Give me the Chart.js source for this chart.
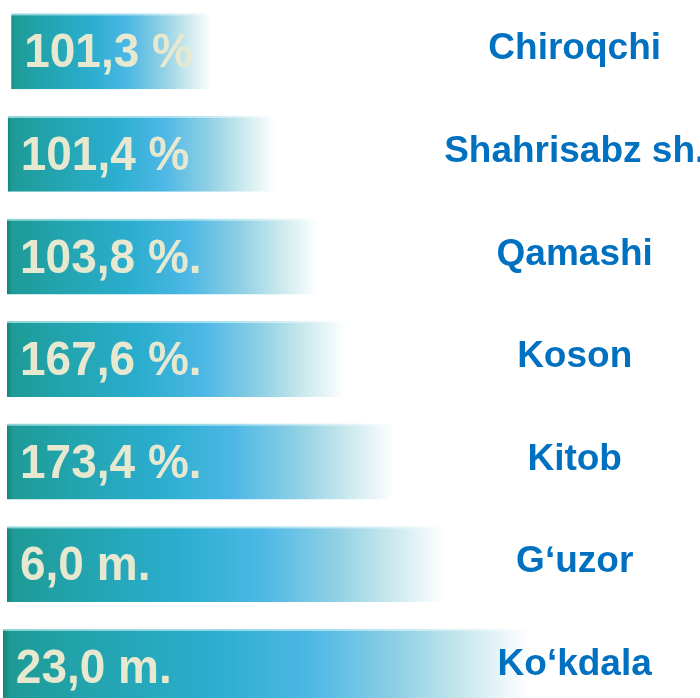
<!DOCTYPE html>
<html><head><meta charset="utf-8">
<script src="https://cdn.jsdelivr.net/npm/chart.js@4/dist/chart.umd.min.js"></script>
<style>
html,body{margin:0;padding:0;background:#fff;overflow:hidden}
#wrap{position:absolute;left:0;top:0;width:700px;height:718px}
</style>
</head><body><div id="wrap"><canvas id="c"></canvas></div>
<script>
const districts = ["Chiroqchi", "Shahrisabz sh.", "Qamashi", "Koson", "Kitob", "Gʻuzor", "Ko‘kdala"];
const valueLabels = ["101,3 %", "101,4 %", "103,8 %.", "167,6 %.", "173,4 %.", "6,0 m.", "23,0 m."];
const barStart = [1.6, 1.1, 1.0, 1.0, 1.0, 1.0, 0.4];
const barEnd = [30.3, 39.3, 45.4, 49.3, 56.4, 63.6, 75.7];

function barPixels(ctx) {
  const xs = ctx.chart.scales.x;
  const i = ctx.dataIndex;
  return [xs.getPixelForValue(barStart[i]), xs.getPixelForValue(barEnd[i])];
}

function barGradient(ctx) {
  const chart = ctx.chart;
  if (!chart.chartArea || ctx.type !== 'data') return '#2aaecd';
  const [x0, x1] = barPixels(ctx);
  const g = chart.ctx.createLinearGradient(x0, 0, x1, 0);
  g.addColorStop(0, '#15827c');
  g.addColorStop(0.015, '#1e9b96');
  g.addColorStop(0.15, '#22a3ac');
  g.addColorStop(0.4, '#2baecf');
  g.addColorStop(0.58, '#4cb7e5');
  g.addColorStop(0.75, '#8fd0e4');
  g.addColorStop(0.88, '#cbe9ee');
  g.addColorStop(1, 'rgba(255,255,255,1)');
  return g;
}

function edgeGradient(ctx) {
  const chart = ctx.chart;
  if (!chart.chartArea || ctx.type !== 'data') return '#9fdde6';
  const [x0, x1] = barPixels(ctx);
  const g = chart.ctx.createLinearGradient(x0, 0, x1, 0);
  g.addColorStop(0, '#8fd6d8');
  g.addColorStop(0.6, '#a5dff0');
  g.addColorStop(0.9, '#e3f4f6');
  g.addColorStop(1, '#ffffff');
  return g;
}

const labelPlugin = {
  id: 'barLabels',
  afterDatasetsDraw(chart) {
    const ctx = chart.ctx;
    const meta = chart.getDatasetMeta(0);
    meta.data.forEach((bar, i) => {
      ctx.save();
      ctx.font = 'bold 46px "Liberation Sans", Arial, sans-serif';
      ctx.fillStyle = '#e6e9cf';
      ctx.textBaseline = 'middle';
      ctx.textAlign = 'left';
      ctx.translate(bar.base + 13, bar.y + 3);
      ctx.scale(1, 1.04);
      ctx.fillText(valueLabels[i], 0, 0);
      ctx.restore();

      ctx.save();
      ctx.font = 'bold 37px "Liberation Sans", Arial, sans-serif';
      ctx.fillStyle = '#0070c0';
      ctx.textBaseline = 'middle';
      ctx.textAlign = 'center';
      const cx = chart.chartArea.left + (chart.chartArea.right - chart.chartArea.left) * 0.821;
      ctx.fillText(districts[i], cx, bar.y - 2);
      ctx.restore();
    });
  }
};

new Chart(document.getElementById('c'), {
  type: 'bar',
  data: {
    labels: districts,
    datasets: [{
      data: barStart.map((s, i) => [s, barEnd[i]]),
      backgroundColor: barGradient,
      borderColor: edgeGradient,
      borderWidth: { top: 2, left: 0, right: 0, bottom: 0 },
      borderSkipped: false,
      barPercentage: 0.74,
      categoryPercentage: 1
    }]
  },
  options: {
    indexAxis: 'y',
    responsive: true,
    maintainAspectRatio: false,
    animation: false,
    layout: { padding: 0 },
    scales: {
      x: { display: false, min: 0, max: 100 },
      y: { display: false }
    },
    plugins: { legend: { display: false }, tooltip: { enabled: false } }
  },
  plugins: [labelPlugin]
});
</script>
</body></html>
